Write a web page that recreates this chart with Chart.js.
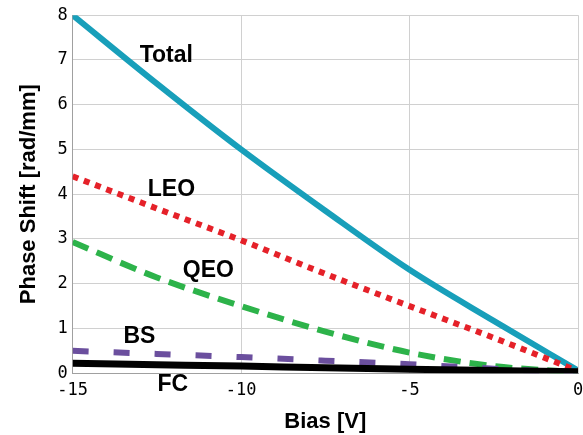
<!DOCTYPE html>
<html>
<head>
<meta charset="utf-8">
<script src="https://cdn.jsdelivr.net/npm/chart.js@4/dist/chart.umd.min.js"></script>
<style>
html,body{margin:0;padding:0;background:#fff;}
#wrap{width:583px;height:435px;position:relative;}
</style>
</head>
<body>
<div id="wrap"><canvas id="c" width="583" height="435"></canvas></div>
<script>
const biasV = [-15, -12.5, -10, -7.5, -5, -2.5, 0];
const total = [8.0, 6.47, 5.0, 3.63, 2.31, 1.17, 0.06];
const leo   = [4.4, 3.68, 2.97, 2.22, 1.5, 0.79, 0.05];
const qeo   = [2.93, 2.14, 1.5, 0.93, 0.46, 0.16, 0.02];
const bs    = [0.5, 0.43, 0.36, 0.28, 0.2, 0.1, 0.0];
const fc    = [0.22, 0.19, 0.16, 0.12, 0.09, 0.06, 0.03];
const xTicks = [-15, -10, -5, 0];
const yTicks = [0, 1, 2, 3, 4, 5, 6, 7, 8];
const seriesNames = ['Total', 'LEO', 'QEO', 'BS', 'FC'];
const labelAnchors = {
  Total: [-13.01, 6.95],
  LEO: [-12.77, 3.97],
  QEO: [-11.73, 2.15],
  BS: [-13.49, 0.67],
  FC: [-12.48, -0.40]
};

function pts(ys){ return biasV.map((x,i)=>({x:x,y:ys[i]})); }

const labelPlugin = {
  id: 'seriesLabels',
  afterDatasetsDraw(chart){
    const ctx = chart.ctx, xs = chart.scales.x, ys = chart.scales.y;
    ctx.save();
    ctx.font = 'bold 23px "Liberation Sans", Arial, sans-serif';
    ctx.fillStyle = '#000';
    ctx.textAlign = 'left';
    ctx.textBaseline = 'alphabetic';
    seriesNames.forEach(n=>{
      const a = labelAnchors[n];
      ctx.fillText(n, xs.getPixelForValue(a[0]), ys.getPixelForValue(a[1]));
    });
    ctx.restore();
  }
};

new Chart(document.getElementById('c'), {
  type: 'line',
  data: {
    datasets: [
      {label:'FC', data:pts(fc), borderColor:'#000000', borderWidth:7, pointRadius:0, cubicInterpolationMode:'monotone', borderCapStyle:'butt'},
      {label:'BS', data:pts(bs), borderColor:'#6b4f9e', borderWidth:6, borderDash:[16,25], pointRadius:0, cubicInterpolationMode:'monotone'},
      {label:'QEO', data:pts(qeo), borderColor:'#2db34a', borderWidth:6, borderDash:[17,9], pointRadius:0, cubicInterpolationMode:'monotone'},
      {label:'LEO', data:pts(leo), borderColor:'#e52129', borderWidth:6, borderDash:[6,6], pointRadius:0, cubicInterpolationMode:'monotone'},
      {label:'Total', data:pts(total), borderColor:'#189fba', borderWidth:6, pointRadius:0, cubicInterpolationMode:'monotone'}
    ]
  },
  options: {
    responsive:false,
    animation:false,
    layout:{padding:{top:7,right:5,left:16,bottom:0}},
    plugins:{legend:{display:false}, tooltip:{enabled:false}},
    scales:{
      x:{
        type:'linear', min:-15, max:0,
        afterBuildTicks(s){ s.ticks = xTicks.map(v=>({value:v})); },
        afterFit(s){ s.paddingRight = 0; },
        grid:{color:'#d0d0d0', lineWidth:1, drawTicks:false},
        border:{color:'#a0a0a0', width:1},
        ticks:{font:{family:'"DejaVu Sans Mono", monospace', size:17}, color:'#000', padding:7, maxRotation:0},
        title:{display:true, text:'Bias [V]', font:{family:'"Liberation Sans", Arial, sans-serif', size:22, weight:'bold'}, color:'#000', padding:{top:1,bottom:0}}
      },
      y:{
        type:'linear', min:0, max:8,
        afterBuildTicks(s){ s.ticks = yTicks.map(v=>({value:v})); },
        grid:{color:'#d0d0d0', lineWidth:1, drawTicks:false},
        border:{color:'#a0a0a0', width:1},
        ticks:{font:{family:'"DejaVu Sans Mono", monospace', size:17}, color:'#000', padding:5},
        title:{display:true, text:'Phase Shift [rad/mm]', font:{family:'"Liberation Sans", Arial, sans-serif', size:22, weight:'bold'}, color:'#000', padding:{top:0,bottom:10}}
      }
    }
  },
  plugins:[labelPlugin]
});
</script>
</body>
</html>
